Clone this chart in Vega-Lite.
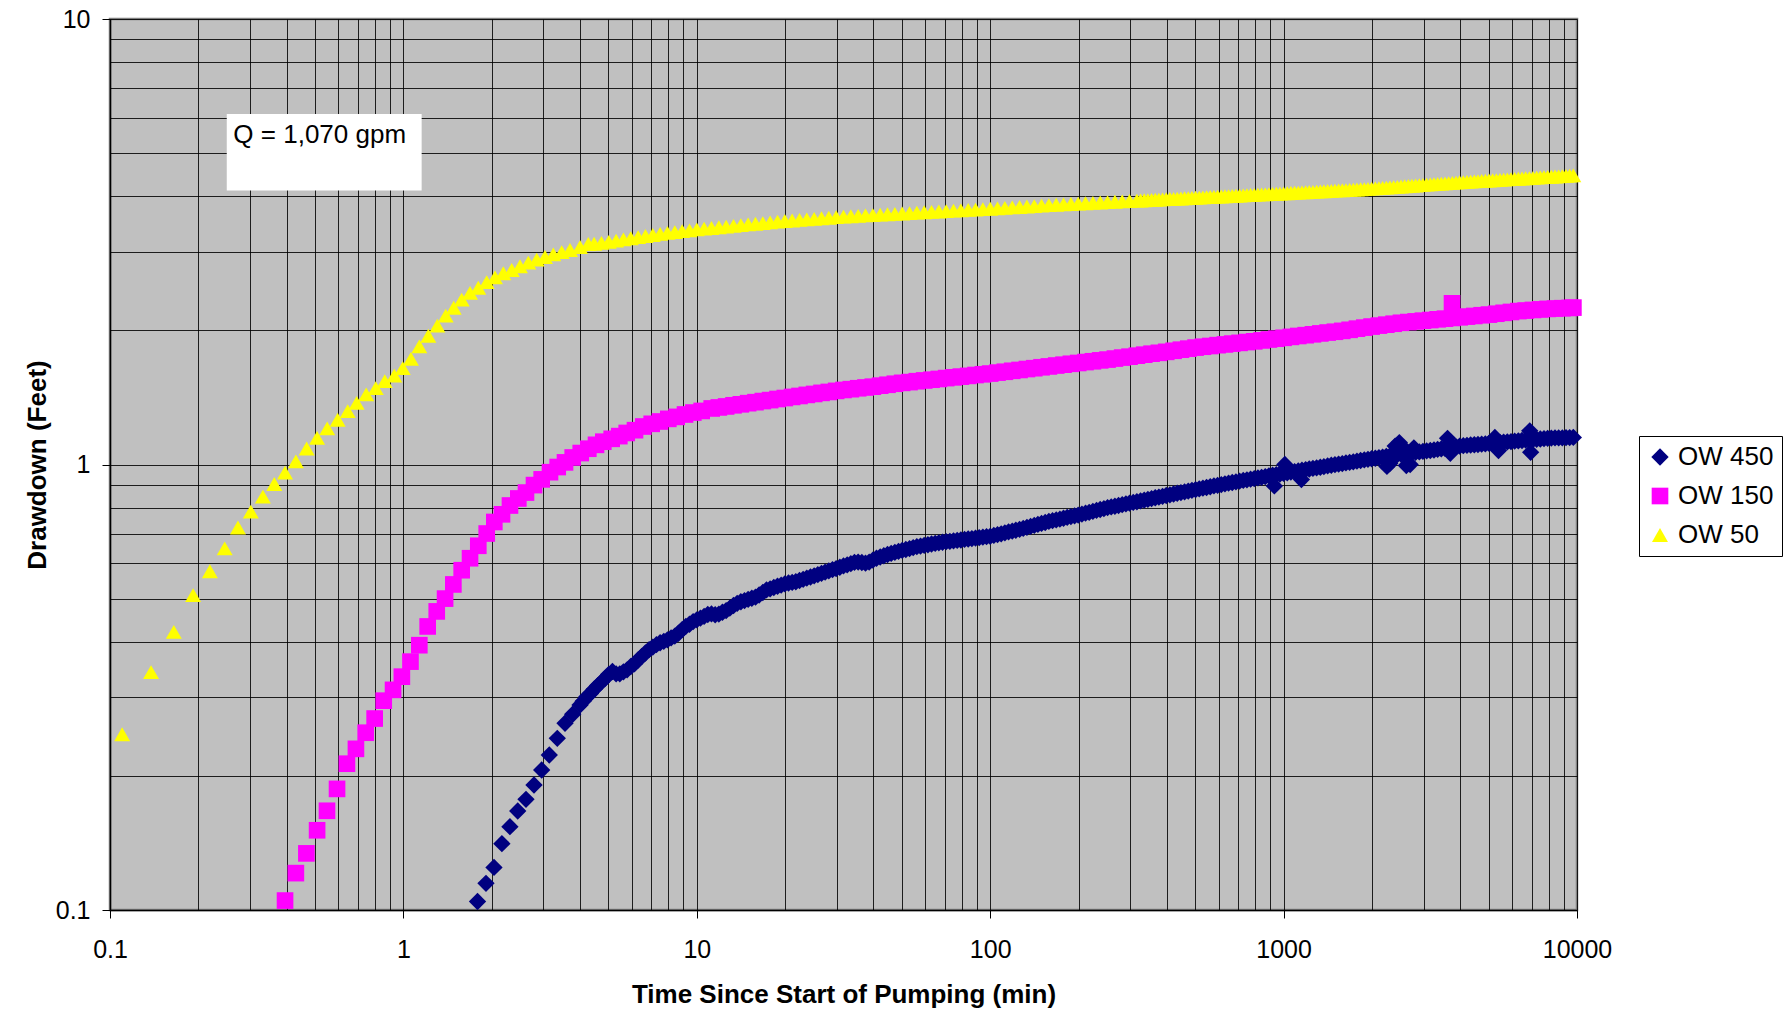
{
"$schema":"https://vega.github.io/schema/vega-lite/v6.json",
"width":1467,"height":891,
"autosize":{"type":"none"},
"padding":{"left":110,"top":19,"right":213,"bottom":103},
"background":"#ffffff",
"config":{"view":{"fill":"#C0C0C0","stroke":"#808080","strokeWidth":2.5},"font":"Liberation Sans"},
"encoding":{
"x":{"field":"t","type":"quantitative","scale":{"type":"log","domain":[0.1,10000],"nice":false},
"axis":{"title":"Time Since Start of Pumping (min)","values":[0.1,0.2,0.3,0.4,0.5,0.6,0.7,0.8,0.9,1,2,3,4,5,6,7,8,9,10,20,30,40,50,60,70,80,90,100,200,300,400,500,600,700,800,900,1000,2000,3000,4000,5000,6000,7000,8000,9000,10000],
"labelExpr":"abs(log(datum.value)/LN10 - round(log(datum.value)/LN10)) < 0.001 ? format(datum.value, '~g') : ''",
"labelFontSize":25,"labelFont":"Liberation Sans","labelColor":"#000","labelPadding":19,"labelOverlap":false,"labelBound":false,"labelFlush":false,
"tickSize":8,"tickColor":"#000","tickWidth":1,"tickOpacity":{"condition":{"test":"abs(log(datum.value)/LN10 - round(log(datum.value)/LN10)) < 0.001","value":1},"value":0},
"grid":true,"gridColor":"#000","gridWidth":1,"gridOpacity":0.85,"domainColor":"#000","domainWidth":1.5,
"titleFontSize":26,"titleFontWeight":"bold","titleFont":"Liberation Sans","titleColor":"#000","titleX":733.5,"titleY":92,"titleBaseline":"alphabetic","titleAlign":"center"}},
"y":{"field":"d","type":"quantitative","scale":{"type":"log","domain":[0.1,10],"nice":false},
"axis":{"title":"Drawdown (Feet)","values":[0.1,0.2,0.3,0.4,0.5,0.6,0.7,0.8,0.9,1,2,3,4,5,6,7,8,9,10],
"labelExpr":"abs(log(datum.value)/LN10 - round(log(datum.value)/LN10)) < 0.001 ? format(datum.value, '~g') : ''",
"labelFontSize":25,"labelFont":"Liberation Sans","labelColor":"#000","labelPadding":12,"labelOverlap":false,"labelBound":false,"labelFlush":false,
"tickSize":8,"tickColor":"#000","tickWidth":1,"tickOpacity":{"condition":{"test":"abs(log(datum.value)/LN10 - round(log(datum.value)/LN10)) < 0.001","value":1},"value":0},
"grid":true,"gridColor":"#000","gridWidth":1,"gridOpacity":0.85,"domainColor":"#000","domainWidth":1.5,
"titleFontSize":26,"titleFontWeight":"bold","titleFont":"Liberation Sans","titleColor":"#000","titleX":-65,"titleY":445.5,"titleAngle":270,"titleBaseline":"alphabetic","titleAlign":"center"}}
},
"layer":[
{"data":{"values":[
{"s":"OW 450","t":1.789,"d":0.1045},{"s":"OW 450","t":1.912,"d":0.1148},{"s":"OW 450","t":2.036,"d":0.1246},{"s":"OW 450","t":2.166,"d":0.1409},{"s":"OW 450","t":2.307,"d":0.1538},{"s":"OW 450","t":2.453,"d":0.1668},{"s":"OW 450","t":2.617,"d":0.1772},{"s":"OW 450","t":2.787,"d":0.1908},{"s":"OW 450","t":2.96,"d":0.2062},{"s":"OW 450","t":3.142,"d":0.2228},{"s":"OW 450","t":3.346,"d":0.2429},{"s":"OW 450","t":3.555,"d":0.2625},{"s":"OW 450","t":3.776,"d":0.275},{"s":"OW 450","t":4.0,"d":0.2885},
{"s":"OW 450","t":4.097,"d":0.294},{"s":"OW 450","t":4.217,"d":0.301},{"s":"OW 450","t":4.34,"d":0.306},{"s":"OW 450","t":4.467,"d":0.313},{"s":"OW 450","t":4.597,"d":0.319},{"s":"OW 450","t":4.732,"d":0.325},{"s":"OW 450","t":4.87,"d":0.331},{"s":"OW 450","t":5.012,"d":0.338},{"s":"OW 450","t":5.158,"d":0.343},{"s":"OW 450","t":5.309,"d":0.339},{"s":"OW 450","t":5.464,"d":0.339},{"s":"OW 450","t":5.623,"d":0.3425},{"s":"OW 450","t":5.788,"d":0.346},{"s":"OW 450","t":5.957,"d":0.352},{"s":"OW 450","t":6.131,"d":0.357},{"s":"OW 450","t":6.31,"d":0.364},{"s":"OW 450","t":6.494,"d":0.371},{"s":"OW 450","t":6.683,"d":0.3775},{"s":"OW 450","t":6.879,"d":0.384},{"s":"OW 450","t":7.08,"d":0.389},{"s":"OW 450","t":7.286,"d":0.394},{"s":"OW 450","t":7.499,"d":0.398},{"s":"OW 450","t":7.718,"d":0.401},{"s":"OW 450","t":7.943,"d":0.404},{"s":"OW 450","t":8.175,"d":0.408},{"s":"OW 450","t":8.414,"d":0.412},{"s":"OW 450","t":8.66,"d":0.418},{"s":"OW 450","t":8.913,"d":0.426},{"s":"OW 450","t":9.173,"d":0.433},{"s":"OW 450","t":9.441,"d":0.438},{"s":"OW 450","t":9.716,"d":0.444},
{"s":"OW 450","t":10.0,"d":0.448},{"s":"OW 450","t":10.29,"d":0.452},{"s":"OW 450","t":10.59,"d":0.456},{"s":"OW 450","t":10.9,"d":0.4605},{"s":"OW 450","t":11.22,"d":0.462},{"s":"OW 450","t":11.55,"d":0.46},{"s":"OW 450","t":11.89,"d":0.4615},{"s":"OW 450","t":12.23,"d":0.466},{"s":"OW 450","t":12.59,"d":0.47},{"s":"OW 450","t":12.96,"d":0.476},{"s":"OW 450","t":13.34,"d":0.4825},{"s":"OW 450","t":13.73,"d":0.488},{"s":"OW 450","t":14.13,"d":0.492},{"s":"OW 450","t":14.54,"d":0.495},{"s":"OW 450","t":14.96,"d":0.498},{"s":"OW 450","t":15.4,"d":0.501},{"s":"OW 450","t":15.85,"d":0.504},{"s":"OW 450","t":16.31,"d":0.5095},{"s":"OW 450","t":16.79,"d":0.516},{"s":"OW 450","t":17.28,"d":0.523},{"s":"OW 450","t":17.78,"d":0.526},{"s":"OW 450","t":18.3,"d":0.5295},{"s":"OW 450","t":18.84,"d":0.533},{"s":"OW 450","t":19.39,"d":0.536},{"s":"OW 450","t":19.95,"d":0.5395},{"s":"OW 450","t":20.54,"d":0.542},{"s":"OW 450","t":21.14,"d":0.544},{"s":"OW 450","t":21.75,"d":0.5455},{"s":"OW 450","t":22.39,"d":0.549},{"s":"OW 450","t":23.04,"d":0.5525},{"s":"OW 450","t":23.71,"d":0.556},{"s":"OW 450","t":24.41,"d":0.559},{"s":"OW 450","t":25.12,"d":0.5625},{"s":"OW 450","t":25.85,"d":0.566},{"s":"OW 450","t":26.61,"d":0.5697},{"s":"OW 450","t":27.38,"d":0.5735},{"s":"OW 450","t":28.18,"d":0.577},{"s":"OW 450","t":29.01,"d":0.581},{"s":"OW 450","t":29.85,"d":0.584},{"s":"OW 450","t":30.73,"d":0.588},{"s":"OW 450","t":31.62,"d":0.592},{"s":"OW 450","t":32.55,"d":0.595},{"s":"OW 450","t":33.5,"d":0.599},{"s":"OW 450","t":34.47,"d":0.603},{"s":"OW 450","t":35.48,"d":0.604},{"s":"OW 450","t":36.52,"d":0.6025},{"s":"OW 450","t":37.58,"d":0.6005},{"s":"OW 450","t":38.68,"d":0.604},{"s":"OW 450","t":39.81,"d":0.61},{"s":"OW 450","t":40.97,"d":0.616},{"s":"OW 450","t":42.17,"d":0.62},{"s":"OW 450","t":43.4,"d":0.624},{"s":"OW 450","t":44.67,"d":0.628},{"s":"OW 450","t":45.97,"d":0.6315},{"s":"OW 450","t":47.32,"d":0.635},{"s":"OW 450","t":48.7,"d":0.6385},{"s":"OW 450","t":50.12,"d":0.6415},{"s":"OW 450","t":51.58,"d":0.6445},{"s":"OW 450","t":53.09,"d":0.6475},{"s":"OW 450","t":54.64,"d":0.651},{"s":"OW 450","t":56.23,"d":0.654},{"s":"OW 450","t":57.88,"d":0.656},{"s":"OW 450","t":59.57,"d":0.6585},{"s":"OW 450","t":61.31,"d":0.6605},{"s":"OW 450","t":63.1,"d":0.663},{"s":"OW 450","t":64.94,"d":0.665},{"s":"OW 450","t":66.83,"d":0.667},{"s":"OW 450","t":68.79,"d":0.669},{"s":"OW 450","t":70.8,"d":0.671},{"s":"OW 450","t":72.86,"d":0.672},{"s":"OW 450","t":74.99,"d":0.674},{"s":"OW 450","t":77.18,"d":0.6755},{"s":"OW 450","t":79.43,"d":0.677},{"s":"OW 450","t":81.75,"d":0.679},{"s":"OW 450","t":84.14,"d":0.6805},{"s":"OW 450","t":86.6,"d":0.682},{"s":"OW 450","t":89.13,"d":0.6835},{"s":"OW 450","t":91.73,"d":0.685},{"s":"OW 450","t":94.41,"d":0.687},{"s":"OW 450","t":97.16,"d":0.6885},
{"s":"OW 450","t":100,"d":0.69},{"s":"OW 450","t":102.9,"d":0.693},{"s":"OW 450","t":105.9,"d":0.696},{"s":"OW 450","t":109,"d":0.699},{"s":"OW 450","t":112.2,"d":0.7025},{"s":"OW 450","t":115.5,"d":0.706},{"s":"OW 450","t":118.9,"d":0.709},{"s":"OW 450","t":122.3,"d":0.712},{"s":"OW 450","t":125.9,"d":0.715},{"s":"OW 450","t":129.6,"d":0.719},{"s":"OW 450","t":133.4,"d":0.7225},{"s":"OW 450","t":137.3,"d":0.726},{"s":"OW 450","t":141.3,"d":0.73},{"s":"OW 450","t":145.4,"d":0.734},{"s":"OW 450","t":149.6,"d":0.7375},{"s":"OW 450","t":154,"d":0.741},{"s":"OW 450","t":158.5,"d":0.745},{"s":"OW 450","t":163.1,"d":0.748},{"s":"OW 450","t":167.9,"d":0.751},{"s":"OW 450","t":172.8,"d":0.754},{"s":"OW 450","t":177.8,"d":0.7575},{"s":"OW 450","t":183,"d":0.761},{"s":"OW 450","t":188.4,"d":0.764},{"s":"OW 450","t":193.9,"d":0.767},{"s":"OW 450","t":199.5,"d":0.77},{"s":"OW 450","t":205.4,"d":0.774},{"s":"OW 450","t":211.4,"d":0.7775},{"s":"OW 450","t":217.5,"d":0.781},{"s":"OW 450","t":223.9,"d":0.785},{"s":"OW 450","t":230.4,"d":0.789},{"s":"OW 450","t":237.1,"d":0.7925},{"s":"OW 450","t":244.1,"d":0.796},{"s":"OW 450","t":251.2,"d":0.8},{"s":"OW 450","t":258.5,"d":0.803},{"s":"OW 450","t":266.1,"d":0.806},{"s":"OW 450","t":273.8,"d":0.809},{"s":"OW 450","t":281.8,"d":0.8125},{"s":"OW 450","t":290.1,"d":0.816},{"s":"OW 450","t":298.5,"d":0.819},{"s":"OW 450","t":307.3,"d":0.822},{"s":"OW 450","t":316.2,"d":0.825},{"s":"OW 450","t":325.5,"d":0.8285},{"s":"OW 450","t":335,"d":0.832},{"s":"OW 450","t":344.7,"d":0.835},{"s":"OW 450","t":354.8,"d":0.8385},{"s":"OW 450","t":365.2,"d":0.842},{"s":"OW 450","t":375.8,"d":0.845},{"s":"OW 450","t":386.8,"d":0.8485},{"s":"OW 450","t":398.1,"d":0.852},{"s":"OW 450","t":409.7,"d":0.855},{"s":"OW 450","t":421.7,"d":0.8585},{"s":"OW 450","t":434,"d":0.862},{"s":"OW 450","t":446.7,"d":0.865},{"s":"OW 450","t":459.7,"d":0.868},{"s":"OW 450","t":473.2,"d":0.8715},{"s":"OW 450","t":487,"d":0.875},{"s":"OW 450","t":501.2,"d":0.878},{"s":"OW 450","t":515.8,"d":0.8815},{"s":"OW 450","t":530.9,"d":0.885},{"s":"OW 450","t":546.4,"d":0.888},{"s":"OW 450","t":562.3,"d":0.8915},{"s":"OW 450","t":578.8,"d":0.895},{"s":"OW 450","t":595.7,"d":0.898},{"s":"OW 450","t":613.1,"d":0.9015},{"s":"OW 450","t":631,"d":0.905},{"s":"OW 450","t":649.4,"d":0.908},{"s":"OW 450","t":668.3,"d":0.911},{"s":"OW 450","t":687.9,"d":0.914},{"s":"OW 450","t":707.9,"d":0.9175},{"s":"OW 450","t":728.6,"d":0.921},{"s":"OW 450","t":749.9,"d":0.924},{"s":"OW 450","t":771.8,"d":0.927},{"s":"OW 450","t":794.3,"d":0.93},{"s":"OW 450","t":817.5,"d":0.933},{"s":"OW 450","t":841.4,"d":0.936},{"s":"OW 450","t":866,"d":0.939},{"s":"OW 450","t":891.3,"d":0.9425},{"s":"OW 450","t":917.3,"d":0.946},{"s":"OW 450","t":944.1,"d":0.949},{"s":"OW 450","t":971.6,"d":0.952},
{"s":"OW 450","t":1000,"d":0.955},{"s":"OW 450","t":1029,"d":0.958},{"s":"OW 450","t":1059,"d":0.961},{"s":"OW 450","t":1090,"d":0.964},{"s":"OW 450","t":1122,"d":0.9675},{"s":"OW 450","t":1155,"d":0.971},{"s":"OW 450","t":1189,"d":0.974},{"s":"OW 450","t":1223,"d":0.977},{"s":"OW 450","t":1259,"d":0.98},{"s":"OW 450","t":1296,"d":0.983},{"s":"OW 450","t":1334,"d":0.986},{"s":"OW 450","t":1372,"d":0.989},{"s":"OW 450","t":1413,"d":0.9925},{"s":"OW 450","t":1454,"d":0.996},{"s":"OW 450","t":1496,"d":0.999},{"s":"OW 450","t":1540,"d":1.002},{"s":"OW 450","t":1585,"d":1.005},{"s":"OW 450","t":1631,"d":1.008},{"s":"OW 450","t":1679,"d":1.011},{"s":"OW 450","t":1728,"d":1.014},{"s":"OW 450","t":1778,"d":1.0175},{"s":"OW 450","t":1830,"d":1.021},{"s":"OW 450","t":1884,"d":1.024},{"s":"OW 450","t":1939,"d":1.027},{"s":"OW 450","t":1995,"d":1.03},{"s":"OW 450","t":2054,"d":1.033},{"s":"OW 450","t":2113,"d":1.036},{"s":"OW 450","t":2175,"d":1.039},{"s":"OW 450","t":2239,"d":1.0425},{"s":"OW 450","t":2304,"d":1.046},{"s":"OW 450","t":2371,"d":1.049},{"s":"OW 450","t":2441,"d":1.052},{"s":"OW 450","t":2512,"d":1.055},{"s":"OW 450","t":2585,"d":1.0575},{"s":"OW 450","t":2661,"d":1.06},{"s":"OW 450","t":2738,"d":1.0625},{"s":"OW 450","t":2818,"d":1.065},{"s":"OW 450","t":2901,"d":1.0675},{"s":"OW 450","t":2985,"d":1.07},{"s":"OW 450","t":3073,"d":1.0725},{"s":"OW 450","t":3162,"d":1.075},{"s":"OW 450","t":3255,"d":1.078},{"s":"OW 450","t":3350,"d":1.081},{"s":"OW 450","t":3447,"d":1.084},{"s":"OW 450","t":3548,"d":1.0875},{"s":"OW 450","t":3652,"d":1.091},{"s":"OW 450","t":3758,"d":1.094},{"s":"OW 450","t":3868,"d":1.097},{"s":"OW 450","t":3981,"d":1.1},{"s":"OW 450","t":4097,"d":1.102},{"s":"OW 450","t":4217,"d":1.104},{"s":"OW 450","t":4340,"d":1.106},{"s":"OW 450","t":4467,"d":1.1075},{"s":"OW 450","t":4597,"d":1.109},{"s":"OW 450","t":4732,"d":1.111},{"s":"OW 450","t":4870,"d":1.113},{"s":"OW 450","t":5012,"d":1.115},{"s":"OW 450","t":5158,"d":1.117},{"s":"OW 450","t":5309,"d":1.119},{"s":"OW 450","t":5464,"d":1.121},{"s":"OW 450","t":5623,"d":1.1225},{"s":"OW 450","t":5788,"d":1.124},{"s":"OW 450","t":5957,"d":1.126},{"s":"OW 450","t":6131,"d":1.128},{"s":"OW 450","t":6310,"d":1.13},{"s":"OW 450","t":6494,"d":1.132},{"s":"OW 450","t":6683,"d":1.134},{"s":"OW 450","t":6879,"d":1.136},{"s":"OW 450","t":7080,"d":1.1375},{"s":"OW 450","t":7286,"d":1.139},{"s":"OW 450","t":7499,"d":1.141},{"s":"OW 450","t":7718,"d":1.143},{"s":"OW 450","t":7943,"d":1.145},{"s":"OW 450","t":8175,"d":1.146},{"s":"OW 450","t":8414,"d":1.147},{"s":"OW 450","t":8660,"d":1.1475},{"s":"OW 450","t":8913,"d":1.148},{"s":"OW 450","t":9173,"d":1.149},{"s":"OW 450","t":9441,"d":1.1495},{"s":"OW 450","t":9716,"d":1.15},
{"s":"OW 450","t":930,"d":0.895},{"s":"OW 450","t":1010,"d":1.0},{"s":"OW 450","t":1150,"d":0.925},{"s":"OW 450","t":2250,"d":0.99},{"s":"OW 450","t":2300,"d":1.005},{"s":"OW 450","t":2400,"d":1.1},{"s":"OW 450","t":2480,"d":1.12},{"s":"OW 450","t":2560,"d":1.09},{"s":"OW 450","t":2620,"d":0.995},{"s":"OW 450","t":2700,"d":1.0},{"s":"OW 450","t":2780,"d":1.09},{"s":"OW 450","t":3620,"d":1.145},{"s":"OW 450","t":3700,"d":1.06},{"s":"OW 450","t":5250,"d":1.15},{"s":"OW 450","t":5400,"d":1.075},{"s":"OW 450","t":6900,"d":1.19},{"s":"OW 450","t":6950,"d":1.065},
{"s":"OW 150","t":0.395,"d":0.105},{"s":"OW 150","t":0.43,"d":0.121},{"s":"OW 150","t":0.467,"d":0.134},{"s":"OW 150","t":0.508,"d":0.151},{"s":"OW 150","t":0.549,"d":0.167},{"s":"OW 150","t":0.594,"d":0.187},{"s":"OW 150","t":0.642,"d":0.213},{"s":"OW 150","t":0.689,"d":0.23},{"s":"OW 150","t":0.744,"d":0.25},{"s":"OW 150","t":0.798,"d":0.269},{"s":"OW 150","t":0.857,"d":0.295},{"s":"OW 150","t":0.922,"d":0.312},{"s":"OW 150","t":0.988,"d":0.334},{"s":"OW 150","t":1.057,"d":0.361},{"s":"OW 150","t":1.133,"d":0.393},{"s":"OW 150","t":1.21,"d":0.433},{"s":"OW 150","t":1.299,"d":0.468},{"s":"OW 150","t":1.387,"d":0.5},{"s":"OW 150","t":1.48,"d":0.538},{"s":"OW 150","t":1.58,"d":0.579},{"s":"OW 150","t":1.687,"d":0.616},{"s":"OW 150","t":1.8,"d":0.657},{"s":"OW 150","t":1.923,"d":0.7},{"s":"OW 150","t":2.041,"d":0.743},{"s":"OW 150","t":2.168,"d":0.773},{"s":"OW 150","t":2.308,"d":0.809},{"s":"OW 150","t":2.464,"d":0.839},{"s":"OW 150","t":2.617,"d":0.865},{"s":"OW 150","t":2.787,"d":0.899},{"s":"OW 150","t":2.96,"d":0.926},{"s":"OW 150","t":3.16,"d":0.961},{"s":"OW 150","t":3.357,"d":0.987},{"s":"OW 150","t":3.555,"d":1.011},{"s":"OW 150","t":3.776,"d":1.037},{"s":"OW 150","t":4.022,"d":1.061},{"s":"OW 150","t":4.268,"d":1.085},{"s":"OW 150","t":4.534,"d":1.107},{"s":"OW 150","t":4.801,"d":1.125},{"s":"OW 150","t":5.128,"d":1.142},{"s":"OW 150","t":5.443,"d":1.158},{"s":"OW 150","t":5.769,"d":1.177},{"s":"OW 150","t":6.157,"d":1.194},{"s":"OW 150","t":6.573,"d":1.217},{"s":"OW 150","t":7.019,"d":1.234},{"s":"OW 150","t":7.492,"d":1.249},{"s":"OW 150","t":7.997,"d":1.266},{"s":"OW 150","t":8.54,"d":1.279},{"s":"OW 150","t":9.118,"d":1.295},{"s":"OW 150","t":9.73,"d":1.308},{"s":"OW 150","t":10.39,"d":1.319},{"s":"OW 150","t":11.24,"d":1.336},
{"s":"OW 150","t":11.89,"d":1.343},{"s":"OW 150","t":12.59,"d":1.35},{"s":"OW 150","t":13.34,"d":1.358},{"s":"OW 150","t":14.13,"d":1.365},{"s":"OW 150","t":14.96,"d":1.373},{"s":"OW 150","t":15.85,"d":1.38},{"s":"OW 150","t":16.79,"d":1.388},{"s":"OW 150","t":17.78,"d":1.395},{"s":"OW 150","t":18.84,"d":1.403},{"s":"OW 150","t":19.95,"d":1.41},{"s":"OW 150","t":21.13,"d":1.418},{"s":"OW 150","t":22.39,"d":1.425},{"s":"OW 150","t":23.71,"d":1.433},{"s":"OW 150","t":25.12,"d":1.44},{"s":"OW 150","t":26.61,"d":1.448},{"s":"OW 150","t":28.18,"d":1.455},{"s":"OW 150","t":29.85,"d":1.463},{"s":"OW 150","t":31.62,"d":1.47},{"s":"OW 150","t":33.5,"d":1.476},{"s":"OW 150","t":35.48,"d":1.483},{"s":"OW 150","t":37.58,"d":1.489},{"s":"OW 150","t":39.81,"d":1.495},{"s":"OW 150","t":42.17,"d":1.503},{"s":"OW 150","t":44.67,"d":1.51},{"s":"OW 150","t":47.32,"d":1.518},{"s":"OW 150","t":50.12,"d":1.525},{"s":"OW 150","t":53.09,"d":1.531},{"s":"OW 150","t":56.23,"d":1.538},{"s":"OW 150","t":59.57,"d":1.544},{"s":"OW 150","t":63.1,"d":1.55},{"s":"OW 150","t":66.83,"d":1.556},{"s":"OW 150","t":70.79,"d":1.563},{"s":"OW 150","t":74.99,"d":1.569},{"s":"OW 150","t":79.43,"d":1.575},{"s":"OW 150","t":84.14,"d":1.581},{"s":"OW 150","t":89.13,"d":1.588},{"s":"OW 150","t":94.41,"d":1.594},{"s":"OW 150","t":100,"d":1.6},{"s":"OW 150","t":105.9,"d":1.608},{"s":"OW 150","t":112.2,"d":1.615},{"s":"OW 150","t":118.9,"d":1.623},{"s":"OW 150","t":125.9,"d":1.63},{"s":"OW 150","t":133.4,"d":1.638},{"s":"OW 150","t":141.3,"d":1.645},{"s":"OW 150","t":149.6,"d":1.653},{"s":"OW 150","t":158.5,"d":1.66},{"s":"OW 150","t":167.9,"d":1.668},{"s":"OW 150","t":177.8,"d":1.675},{"s":"OW 150","t":188.4,"d":1.683},{"s":"OW 150","t":199.5,"d":1.69},{"s":"OW 150","t":211.3,"d":1.698},{"s":"OW 150","t":223.9,"d":1.705},{"s":"OW 150","t":237.1,"d":1.713},{"s":"OW 150","t":251.2,"d":1.72},{"s":"OW 150","t":266.1,"d":1.729},{"s":"OW 150","t":281.8,"d":1.738},{"s":"OW 150","t":298.5,"d":1.746},{"s":"OW 150","t":316.2,"d":1.755},{"s":"OW 150","t":335,"d":1.764},{"s":"OW 150","t":354.8,"d":1.773},{"s":"OW 150","t":375.8,"d":1.781},{"s":"OW 150","t":398.1,"d":1.79},{"s":"OW 150","t":421.7,"d":1.8},{"s":"OW 150","t":446.7,"d":1.81},{"s":"OW 150","t":473.2,"d":1.82},{"s":"OW 150","t":501.2,"d":1.83},{"s":"OW 150","t":530.9,"d":1.838},{"s":"OW 150","t":562.3,"d":1.845},{"s":"OW 150","t":595.7,"d":1.853},{"s":"OW 150","t":631,"d":1.86},{"s":"OW 150","t":668.3,"d":1.868},{"s":"OW 150","t":707.9,"d":1.875},{"s":"OW 150","t":749.9,"d":1.883},{"s":"OW 150","t":794.3,"d":1.89},{"s":"OW 150","t":841.4,"d":1.899},{"s":"OW 150","t":891.3,"d":1.908},{"s":"OW 150","t":944.1,"d":1.916},{"s":"OW 150","t":1000,"d":1.925},{"s":"OW 150","t":1059,"d":1.934},{"s":"OW 150","t":1122,"d":1.943},{"s":"OW 150","t":1189,"d":1.951},{"s":"OW 150","t":1259,"d":1.96},{"s":"OW 150","t":1334,"d":1.969},{"s":"OW 150","t":1413,"d":1.978},{"s":"OW 150","t":1496,"d":1.986},{"s":"OW 150","t":1585,"d":1.995},{"s":"OW 150","t":1679,"d":2.006},{"s":"OW 150","t":1778,"d":2.018},{"s":"OW 150","t":1884,"d":2.029},{"s":"OW 150","t":1995,"d":2.04},{"s":"OW 150","t":2113,"d":2.05},{"s":"OW 150","t":2239,"d":2.06},{"s":"OW 150","t":2371,"d":2.07},{"s":"OW 150","t":2512,"d":2.08},{"s":"OW 150","t":2661,"d":2.088},{"s":"OW 150","t":2818,"d":2.095},{"s":"OW 150","t":2985,"d":2.103},{"s":"OW 150","t":3162,"d":2.11},{"s":"OW 150","t":3350,"d":2.118},{"s":"OW 150","t":3548,"d":2.125},{"s":"OW 150","t":3758,"d":2.133},{"s":"OW 150","t":3981,"d":2.14},{"s":"OW 150","t":4217,"d":2.148},{"s":"OW 150","t":4467,"d":2.155},{"s":"OW 150","t":4732,"d":2.163},{"s":"OW 150","t":5012,"d":2.17},{"s":"OW 150","t":5309,"d":2.18},{"s":"OW 150","t":5623,"d":2.19},{"s":"OW 150","t":5957,"d":2.2},{"s":"OW 150","t":6310,"d":2.21},{"s":"OW 150","t":6683,"d":2.216},{"s":"OW 150","t":7079,"d":2.223},{"s":"OW 150","t":7499,"d":2.229},{"s":"OW 150","t":7943,"d":2.235},{"s":"OW 150","t":8414,"d":2.239},{"s":"OW 150","t":8913,"d":2.243},{"s":"OW 150","t":9441,"d":2.246},{"s":"OW 150","t":9720,"d":2.25},{"s":"OW 150","t":3750,"d":2.3},
{"s":"OW 50","t":0.11,"d":0.248},{"s":"OW 50","t":0.138,"d":0.342},{"s":"OW 50","t":0.165,"d":0.421},{"s":"OW 50","t":0.192,"d":0.509},{"s":"OW 50","t":0.219,"d":0.576},{"s":"OW 50","t":0.246,"d":0.648},{"s":"OW 50","t":0.273,"d":0.722},{"s":"OW 50","t":0.302,"d":0.784},{"s":"OW 50","t":0.332,"d":0.847},{"s":"OW 50","t":0.363,"d":0.904},{"s":"OW 50","t":0.395,"d":0.959},{"s":"OW 50","t":0.43,"d":1.016},{"s":"OW 50","t":0.468,"d":1.086},{"s":"OW 50","t":0.508,"d":1.148},{"s":"OW 50","t":0.55,"d":1.205},{"s":"OW 50","t":0.597,"d":1.26},{"s":"OW 50","t":0.646,"d":1.318},{"s":"OW 50","t":0.693,"d":1.375},{"s":"OW 50","t":0.747,"d":1.437},{"s":"OW 50","t":0.805,"d":1.484},{"s":"OW 50","t":0.864,"d":1.539},{"s":"OW 50","t":0.931,"d":1.583},{"s":"OW 50","t":0.995,"d":1.646},{"s":"OW 50","t":1.061,"d":1.726},{"s":"OW 50","t":1.133,"d":1.842},{"s":"OW 50","t":1.216,"d":1.945},{"s":"OW 50","t":1.305,"d":2.05},{"s":"OW 50","t":1.394,"d":2.159},{"s":"OW 50","t":1.484,"d":2.248},{"s":"OW 50","t":1.58,"d":2.345},{"s":"OW 50","t":1.687,"d":2.427},{"s":"OW 50","t":1.8,"d":2.493},{"s":"OW 50","t":1.923,"d":2.566},{"s":"OW 50","t":2.052,"d":2.63},{"s":"OW 50","t":2.19,"d":2.687},{"s":"OW 50","t":2.34,"d":2.733},{"s":"OW 50","t":2.497,"d":2.786},{"s":"OW 50","t":2.665,"d":2.84},{"s":"OW 50","t":2.847,"d":2.884},{"s":"OW 50","t":3.038,"d":2.923},{"s":"OW 50","t":3.243,"d":2.962},{"s":"OW 50","t":3.464,"d":2.996},{"s":"OW 50","t":3.697,"d":3.03},{"s":"OW 50","t":4.0,"d":3.078},{"s":"OW 50","t":4.268,"d":3.126},
{"s":"OW 50","t":4.467,"d":3.13},{"s":"OW 50","t":4.732,"d":3.145},{"s":"OW 50","t":5.012,"d":3.16},{"s":"OW 50","t":5.309,"d":3.18},{"s":"OW 50","t":5.623,"d":3.2},{"s":"OW 50","t":5.957,"d":3.22},{"s":"OW 50","t":6.31,"d":3.24},{"s":"OW 50","t":6.683,"d":3.258},{"s":"OW 50","t":7.079,"d":3.275},{"s":"OW 50","t":7.499,"d":3.293},{"s":"OW 50","t":7.943,"d":3.31},{"s":"OW 50","t":8.414,"d":3.325},{"s":"OW 50","t":8.913,"d":3.34},{"s":"OW 50","t":9.441,"d":3.355},{"s":"OW 50","t":10,"d":3.37},{"s":"OW 50","t":10.59,"d":3.383},{"s":"OW 50","t":11.22,"d":3.395},{"s":"OW 50","t":11.89,"d":3.408},{"s":"OW 50","t":12.59,"d":3.42},{"s":"OW 50","t":13.34,"d":3.433},{"s":"OW 50","t":14.13,"d":3.445},{"s":"OW 50","t":14.96,"d":3.458},{"s":"OW 50","t":15.85,"d":3.47},{"s":"OW 50","t":16.79,"d":3.483},{"s":"OW 50","t":17.78,"d":3.495},{"s":"OW 50","t":18.84,"d":3.508},{"s":"OW 50","t":19.95,"d":3.52},{"s":"OW 50","t":21.13,"d":3.53},{"s":"OW 50","t":22.39,"d":3.54},{"s":"OW 50","t":23.71,"d":3.55},{"s":"OW 50","t":25.12,"d":3.56},{"s":"OW 50","t":26.61,"d":3.57},{"s":"OW 50","t":28.18,"d":3.58},{"s":"OW 50","t":29.85,"d":3.59},{"s":"OW 50","t":31.62,"d":3.6},{"s":"OW 50","t":33.5,"d":3.608},{"s":"OW 50","t":35.48,"d":3.615},{"s":"OW 50","t":37.58,"d":3.623},{"s":"OW 50","t":39.81,"d":3.63},{"s":"OW 50","t":42.17,"d":3.638},{"s":"OW 50","t":44.67,"d":3.645},{"s":"OW 50","t":47.32,"d":3.653},{"s":"OW 50","t":50.12,"d":3.66},{"s":"OW 50","t":53.09,"d":3.668},{"s":"OW 50","t":56.23,"d":3.675},{"s":"OW 50","t":59.57,"d":3.683},{"s":"OW 50","t":63.1,"d":3.69},{"s":"OW 50","t":66.83,"d":3.698},{"s":"OW 50","t":70.79,"d":3.705},{"s":"OW 50","t":74.99,"d":3.713},{"s":"OW 50","t":79.43,"d":3.72},{"s":"OW 50","t":84.14,"d":3.728},{"s":"OW 50","t":89.13,"d":3.735},{"s":"OW 50","t":94.41,"d":3.743},
{"s":"OW 50","t":100,"d":3.75},{"s":"OW 50","t":105.9,"d":3.759},{"s":"OW 50","t":112.2,"d":3.768},{"s":"OW 50","t":118.9,"d":3.777},{"s":"OW 50","t":125.9,"d":3.785},{"s":"OW 50","t":133.4,"d":3.794},{"s":"OW 50","t":141.3,"d":3.803},{"s":"OW 50","t":149.6,"d":3.811},{"s":"OW 50","t":158.5,"d":3.82},{"s":"OW 50","t":167.9,"d":3.828},{"s":"OW 50","t":177.8,"d":3.835},{"s":"OW 50","t":188.4,"d":3.843},{"s":"OW 50","t":199.5,"d":3.85},{"s":"OW 50","t":211.3,"d":3.858},{"s":"OW 50","t":223.9,"d":3.865},{"s":"OW 50","t":237.1,"d":3.873},{"s":"OW 50","t":251.2,"d":3.88},{"s":"OW 50","t":266.1,"d":3.888},{"s":"OW 50","t":281.8,"d":3.895},{"s":"OW 50","t":298.5,"d":3.903},
{"s":"OW 50","t":316.2,"d":3.91},{"s":"OW 50","t":325.5,"d":3.914},{"s":"OW 50","t":335,"d":3.918},{"s":"OW 50","t":344.7,"d":3.921},{"s":"OW 50","t":354.8,"d":3.925},{"s":"OW 50","t":365.2,"d":3.929},{"s":"OW 50","t":375.8,"d":3.933},{"s":"OW 50","t":386.8,"d":3.936},{"s":"OW 50","t":398.1,"d":3.94},{"s":"OW 50","t":409.7,"d":3.944},{"s":"OW 50","t":421.7,"d":3.948},{"s":"OW 50","t":434,"d":3.951},{"s":"OW 50","t":446.7,"d":3.955},{"s":"OW 50","t":459.7,"d":3.959},{"s":"OW 50","t":473.2,"d":3.963},{"s":"OW 50","t":487,"d":3.966},{"s":"OW 50","t":501.2,"d":3.97},{"s":"OW 50","t":515.8,"d":3.974},{"s":"OW 50","t":530.9,"d":3.978},{"s":"OW 50","t":546.4,"d":3.981},{"s":"OW 50","t":562.3,"d":3.985},{"s":"OW 50","t":578.8,"d":3.989},{"s":"OW 50","t":595.7,"d":3.993},{"s":"OW 50","t":613.1,"d":3.996},{"s":"OW 50","t":631,"d":4.0},{"s":"OW 50","t":649.4,"d":4.004},{"s":"OW 50","t":668.3,"d":4.008},{"s":"OW 50","t":687.9,"d":4.011},{"s":"OW 50","t":707.9,"d":4.015},{"s":"OW 50","t":728.6,"d":4.019},{"s":"OW 50","t":749.9,"d":4.023},{"s":"OW 50","t":771.8,"d":4.026},{"s":"OW 50","t":794.3,"d":4.03},{"s":"OW 50","t":817.5,"d":4.034},{"s":"OW 50","t":841.4,"d":4.038},{"s":"OW 50","t":866,"d":4.041},{"s":"OW 50","t":891.3,"d":4.045},{"s":"OW 50","t":917.3,"d":4.049},{"s":"OW 50","t":944.1,"d":4.053},{"s":"OW 50","t":971.6,"d":4.056},
{"s":"OW 50","t":1000,"d":4.06},{"s":"OW 50","t":1029,"d":4.064},{"s":"OW 50","t":1059,"d":4.068},{"s":"OW 50","t":1090,"d":4.073},{"s":"OW 50","t":1122,"d":4.077},{"s":"OW 50","t":1155,"d":4.081},{"s":"OW 50","t":1189,"d":4.085},{"s":"OW 50","t":1223,"d":4.089},{"s":"OW 50","t":1259,"d":4.093},{"s":"OW 50","t":1296,"d":4.098},{"s":"OW 50","t":1334,"d":4.102},{"s":"OW 50","t":1372,"d":4.106},{"s":"OW 50","t":1413,"d":4.11},{"s":"OW 50","t":1454,"d":4.114},{"s":"OW 50","t":1496,"d":4.118},{"s":"OW 50","t":1540,"d":4.123},{"s":"OW 50","t":1585,"d":4.127},{"s":"OW 50","t":1631,"d":4.131},{"s":"OW 50","t":1679,"d":4.135},{"s":"OW 50","t":1728,"d":4.139},{"s":"OW 50","t":1778,"d":4.143},{"s":"OW 50","t":1830,"d":4.148},{"s":"OW 50","t":1884,"d":4.152},{"s":"OW 50","t":1939,"d":4.156},{"s":"OW 50","t":1995,"d":4.16},{"s":"OW 50","t":2054,"d":4.166},{"s":"OW 50","t":2113,"d":4.172},{"s":"OW 50","t":2175,"d":4.177},{"s":"OW 50","t":2239,"d":4.183},{"s":"OW 50","t":2304,"d":4.189},{"s":"OW 50","t":2371,"d":4.195},{"s":"OW 50","t":2441,"d":4.201},{"s":"OW 50","t":2512,"d":4.207},{"s":"OW 50","t":2585,"d":4.213},{"s":"OW 50","t":2661,"d":4.218},{"s":"OW 50","t":2738,"d":4.224},{"s":"OW 50","t":2818,"d":4.23},{"s":"OW 50","t":2901,"d":4.236},{"s":"OW 50","t":2985,"d":4.242},{"s":"OW 50","t":3073,"d":4.248},{"s":"OW 50","t":3162,"d":4.253},{"s":"OW 50","t":3255,"d":4.259},{"s":"OW 50","t":3350,"d":4.265},{"s":"OW 50","t":3447,"d":4.271},{"s":"OW 50","t":3548,"d":4.277},{"s":"OW 50","t":3652,"d":4.283},{"s":"OW 50","t":3758,"d":4.288},{"s":"OW 50","t":3868,"d":4.294},{"s":"OW 50","t":3981,"d":4.3},{"s":"OW 50","t":4097,"d":4.305},{"s":"OW 50","t":4217,"d":4.31},{"s":"OW 50","t":4340,"d":4.315},{"s":"OW 50","t":4467,"d":4.32},{"s":"OW 50","t":4597,"d":4.325},{"s":"OW 50","t":4732,"d":4.33},{"s":"OW 50","t":4870,"d":4.335},{"s":"OW 50","t":5012,"d":4.34},{"s":"OW 50","t":5158,"d":4.345},{"s":"OW 50","t":5309,"d":4.35},{"s":"OW 50","t":5464,"d":4.355},{"s":"OW 50","t":5623,"d":4.36},{"s":"OW 50","t":5788,"d":4.365},{"s":"OW 50","t":5957,"d":4.37},{"s":"OW 50","t":6131,"d":4.375},{"s":"OW 50","t":6310,"d":4.38},{"s":"OW 50","t":6494,"d":4.385},{"s":"OW 50","t":6683,"d":4.39},{"s":"OW 50","t":6879,"d":4.395},{"s":"OW 50","t":7080,"d":4.4},{"s":"OW 50","t":7286,"d":4.405},{"s":"OW 50","t":7499,"d":4.41},{"s":"OW 50","t":7718,"d":4.415},{"s":"OW 50","t":7943,"d":4.42},{"s":"OW 50","t":8175,"d":4.425},{"s":"OW 50","t":8414,"d":4.43},{"s":"OW 50","t":8660,"d":4.435},{"s":"OW 50","t":8913,"d":4.44},{"s":"OW 50","t":9173,"d":4.445},{"s":"OW 50","t":9441,"d":4.45},{"s":"OW 50","t":9716,"d":4.455}
]},
"mark":{"type":"point","filled":true,"opacity":1,"strokeWidth":0},
"encoding":{
"size":{"field":"s","type":"nominal","scale":{"domain":["OW 450","OW 150","OW 50"],"range":[300,255,300]},"legend":null},
"color":{"field":"s","type":"nominal","scale":{"domain":["OW 450","OW 150","OW 50"],"range":["#000080","#FF00FF","#FFFF00"]},
"legend":{"title":null,"orient":"none","legendX":1529,"legendY":417,"labelFontSize":26,"labelFont":"Liberation Sans","labelColor":"#000","symbolSize":250,"symbolStrokeWidth":0,"strokeColor":"#000","fillColor":"#ffffff","padding":8,"rowPadding":13,"labelOffset":5}},
"shape":{"field":"s","type":"nominal","scale":{"domain":["OW 450","OW 150","OW 50"],"range":["diamond","square","triangle-up"]},
"legend":{"title":null,"orient":"none","legendX":1529,"legendY":417,"labelFontSize":26,"labelFont":"Liberation Sans","labelColor":"#000","symbolSize":250,"symbolStrokeWidth":0,"strokeColor":"#000","fillColor":"#ffffff","padding":8,"rowPadding":13,"labelOffset":5}}
}},
{"data":{"values":[{"t":0.25,"t2":1.154,"d":6.12,"d2":4.12}]},
"mark":{"type":"rect","fill":"#ffffff","stroke":null},
"encoding":{"x2":{"field":"t2"},"y2":{"field":"d2"}}},
{"data":{"values":[{"t":0.2633,"d":5.28,"label":"Q = 1,070 gpm"}]},
"mark":{"type":"text","align":"left","baseline":"alphabetic","fontSize":26,"font":"Liberation Sans","color":"#000"},
"encoding":{"text":{"field":"label"}}}
]
}
